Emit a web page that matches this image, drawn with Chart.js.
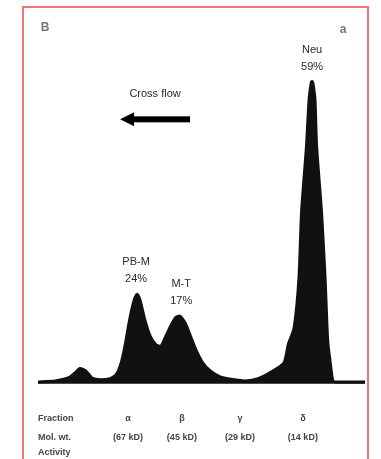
<!DOCTYPE html>
<html>
<head>
<meta charset="utf-8">
<script src="https://cdn.jsdelivr.net/npm/chart.js@4/dist/chart.umd.min.js"></script>
<style>
  html,body{margin:0;padding:0;background:#fff;}
  #frame{position:absolute;left:22px;top:6px;width:343px;height:470px;border:2px solid #f27676;border-bottom:none;}
  #wrap{position:absolute;left:0;top:0;width:381px;height:459px;}
</style>
</head>
<body>
<div id="frame"></div>
<div id="wrap"><canvas id="c" width="381" height="459"></canvas></div>
<script>
// ---- data ----
const positions = [0,5.2,9.2,11.3,12.8,14.7,16.5,19.0,22.0,23.9,25.4,26.6,28.1,29.4,30.3,31.2,32.7,34.3,36.1,37.6,39.1,40.7,42.2,43.4,45.0,46.5,48.3,50.2,52.6,55.7,60.2,63.3,67.3,70.9,75.2,76.5,78.3,79.8,80.6,82.1,82.9,83.5,83.8,84.1,84.7,85.2,86.7,87.8,88.4,88.7,89.3,89.8,90.2,91.1,95.4,100];
const absorbance = [0.5,0.8,1.6,3.0,4.2,3.5,1.6,1.1,1.4,2.5,5.7,10.4,18.0,23.0,24.6,23.0,17.5,13.1,10.7,10.4,13.1,16.1,18.3,18.6,16.7,13.4,9.3,6.0,3.6,1.9,1.1,0.8,1.4,3.0,5.7,10.7,15.3,29.0,47.3,65.3,78.1,82.5,83.1,82.5,78.1,65.3,47.3,29.0,15.3,10.7,6.3,2.7,0.8,0.5,0.5,0.5];
const peakLabels = [
  {x:30.0, y:24.6, lines:["PB-M","24%"]},
  {x:43.8, y:18.6, lines:["M-T","17%"]},
  {x:83.8, y:83.1, lines:["Neu","59%"]}
];
const panelLetters = ["B","a"];
const arrowText = "Cross flow";
const rowTitles = ["Fraction","Mol. wt.","Activity"];
const colPositions = [27.5,44.0,61.8,81.0];
const colSymbols = ["α","β","γ","δ"];
const colValues = ["(67 kD)","(45 kD)","(29 kD)","(14 kD)"];

const pts = positions.map((x,i)=>({x:x,y:absorbance[i]}));

const annot = {
  id:'annot',
  afterDatasetsDraw(chart){
    const {ctx, scales:{x,y}, chartArea} = chart;
    ctx.save();
    ctx.fillStyle = '#2a2a2a';
    ctx.font = '11px "Liberation Sans", Arial, sans-serif';
    ctx.textAlign = 'center';
    ctx.textBaseline = 'middle';
    peakLabels.forEach(p=>{
      const px = x.getPixelForValue(p.x), py = y.getPixelForValue(p.y);
      ctx.fillText(p.lines[0], px, py - 32);
      ctx.fillText(p.lines[1], px, py - 15);
    });
    ctx.font = 'bold 12px "Liberation Sans", Arial, sans-serif';
    ctx.fillStyle = '#777';
    ctx.fillText(panelLetters[0], 45, 28);
    ctx.fillText(panelLetters[1], 343, 30);
    ctx.fillStyle = '#2a2a2a';
    ctx.font = '11px "Liberation Sans", Arial, sans-serif';
    const ax0 = x.getPixelForValue(25.1), ax1 = x.getPixelForValue(46.5), ay = y.getPixelForValue(72.7);
    ctx.fillText(arrowText, (ax0+ax1)/2, ay - 25);
    ctx.fillStyle = '#000';
    ctx.fillRect(ax0+10, ay-3, ax1-ax0-10, 6);
    ctx.beginPath();
    ctx.moveTo(ax0, ay); ctx.lineTo(ax0+14, ay-7); ctx.lineTo(ax0+14, ay+7); ctx.closePath(); ctx.fill();
    ctx.fillStyle = '#444';
    ctx.font = 'bold 9px "Liberation Sans", Arial, sans-serif';
    const base = chartArea.bottom;
    ctx.textAlign = 'left';
    const left = x.getPixelForValue(0);
    ctx.fillText(rowTitles[0], left, base + 33);
    ctx.fillText(rowTitles[1], left, base + 52);
    ctx.fillText(rowTitles[2], left, base + 67);
    ctx.textAlign = 'center';
    colPositions.forEach((c,i)=>{
      const px = x.getPixelForValue(c);
      ctx.fillText(colSymbols[i], px, base + 33);
      ctx.fillText(colValues[i], px, base + 52);
    });
    ctx.restore();
  }
};

new Chart(document.getElementById('c'), {
  type:'line',
  data:{datasets:[{
    data:pts,
    borderColor:'#111',
    backgroundColor:'#111',
    borderWidth:3,
    fill:'origin',
    pointRadius:0,
    tension:0.2
  }]},
  options:{
    responsive:false,
    animation:false,
    layout:{padding:{left:38,right:16,top:20,bottom:73}},
    plugins:{legend:{display:false},tooltip:{enabled:false}},
    scales:{
      x:{type:'linear',min:0,max:100,display:false},
      y:{min:-0.6,max:100,display:false}
    }
  },
  plugins:[annot]
});
</script>
</body>
</html>
